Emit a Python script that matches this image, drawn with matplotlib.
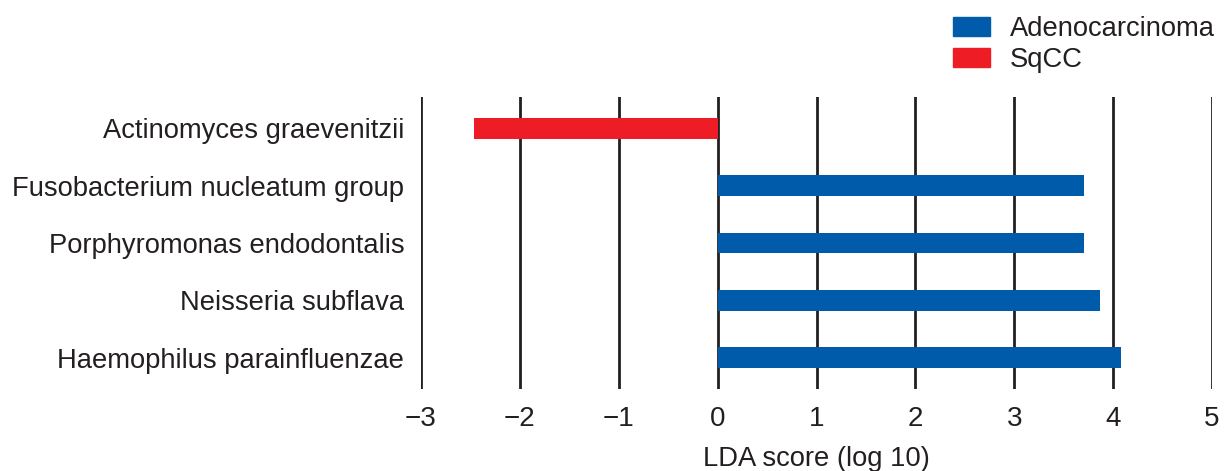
import matplotlib.pyplot as plt
from matplotlib.patches import Patch

plt.rcParams['font.family'] = ['Liberation Sans', 'DejaVu Sans']

TAXA = [
    'Actinomyces graevenitzii',
    'Fusobacterium nucleatum group',
    'Porphyromonas endodontalis',
    'Neisseria subflava',
    'Haemophilus parainfluenzae',
]
LDA = [-2.46, 3.71, 3.71, 3.87, 4.08]
GROUP = ['SqCC', 'Adenocarcinoma', 'Adenocarcinoma', 'Adenocarcinoma', 'Adenocarcinoma']

COLORS = {'Adenocarcinoma': '#005baa', 'SqCC': '#ee1c25'}
INK = '#231f20'
FS = 19.7

fig = plt.figure(figsize=(12.29, 4.71), dpi=100)
ax = fig.add_axes([421 / 1229, 1 - 389 / 471, (1212 - 421) / 1229, (389 - 97) / 471])

ypos = list(range(len(TAXA)))
ax.barh(ypos, LDA, height=0.365, color=[COLORS[g] for g in GROUP], zorder=3)

ax.set_xlim(-3, 5)
ax.set_ylim(len(TAXA) - 0.46, -0.54)
ax.set_xticks(range(-3, 6))
ax.set_xticklabels([f'\u2212{abs(v)}' if v < 0 else str(v) for v in range(-3, 6)])
ax.set_yticks(ypos)
ax.set_yticklabels(TAXA)

for v in range(-3, 6):
    ax.axvline(v, color=INK, lw=2, zorder=2)

for s in ax.spines.values():
    s.set_visible(False)
ax.tick_params(axis='both', length=0, colors=INK, labelsize=FS)
ax.tick_params(axis='x', pad=12, labelsize=20)
ax.tick_params(axis='y', pad=12)
ax.set_xlabel('LDA score (log 10)', fontsize=FS, color=INK, labelpad=10)

handles = [Patch(color=COLORS[k]) for k in ['Adenocarcinoma', 'SqCC']]
fig.legend(handles, ['Adenocarcinoma', 'SqCC'], loc='upper right',
           bbox_to_anchor=(1231 / 1229, 1.0), frameon=False, fontsize=FS,
           handlelength=1.35, handleheight=0.68, handletextpad=0.72,
           labelspacing=0.18, labelcolor=INK, borderaxespad=0.2)

plt.savefig('out.png', dpi=100)
